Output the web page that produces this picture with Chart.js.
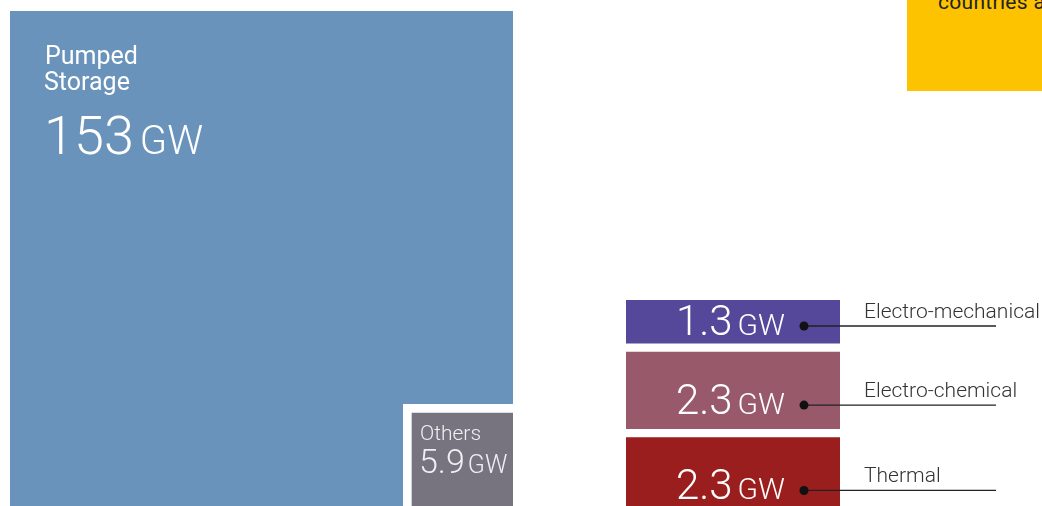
<!DOCTYPE html>
<html>
<head>
<meta charset="utf-8">
<script src="https://cdn.jsdelivr.net/npm/chart.js@4"></script>
<style>
  html, body { margin: 0; padding: 0; background: #fff; overflow: hidden; }
  body { width: 1042px; height: 506px; position: relative; font-family: Roboto, sans-serif; }
  .box { position: absolute; }
  #pumpedBox { left: 10px; top: 11px; width: 503px; height: 495px; }
  #othersBox { left: 403px; top: 404px; width: 110px; height: 102px; }
  #smallBox { left: 626px; top: 300px; width: 416px; height: 206px; }
  #note { position: absolute; left: 907px; top: 0; width: 135px; height: 91px; background: #fdc300; overflow: hidden; }
  #note span { position: absolute; left: 31px; top: -8px; font-size: 21px; line-height: 20px; color: #222; white-space: nowrap; letter-spacing: 0.3px; }
</style>
</head>
<body>
<div class="box" id="pumpedBox"><canvas id="pumpedChart"></canvas></div>
<div class="box" id="othersBox"><canvas id="othersChart"></canvas></div>
<div class="box" id="smallBox"><canvas id="smallChart"></canvas></div>
<div id="note"><span>countries and</span></div>

<script>
const categories = ["Pumped Storage", "Others", "Electro-mechanical", "Electro-chemical", "Thermal"];
const capacityGW = [153, 5.9, 1.3, 2.3, 2.3];
const unit = "GW";

const colors = ["#6993ba", "#77737f", "#55479a", "#985a6b", "#9a1e1e"];

const baseOptions = {
  responsive: true,
  maintainAspectRatio: false,
  animation: false,
  events: [],
  plugins: { legend: { display: false }, tooltip: { enabled: false } },
  datasets: { bar: { grouped: false, barPercentage: 1, categoryPercentage: 1, borderWidth: 0 } }
};

// number + smaller unit, left or right aligned
function drawValue(ctx, value, x, y, numSize, unitSize, gap, align) {
  const num = String(value);
  ctx.textBaseline = "alphabetic";
  ctx.font = "300 " + numSize + "px Roboto";
  const wNum = ctx.measureText(num).width;
  ctx.font = "300 " + unitSize + "px Roboto";
  const wUnit = ctx.measureText(unit).width;
  let left = align === "right" ? x - wNum - gap - wUnit : x;
  ctx.textAlign = "left";
  ctx.font = "300 " + numSize + "px Roboto";
  ctx.fillText(num, left, y);
  ctx.font = "300 " + unitSize + "px Roboto";
  ctx.fillText(unit, left + wNum + gap, y);
}

// PUMPED STORAGE

new Chart(document.getElementById("pumpedChart"), {
  type: "bar",
  data: {
    labels: [categories[0]],
    datasets: [{ label: categories[0], data: [capacityGW[0]], backgroundColor: colors[0] }]
  },
  options: {
    ...baseOptions,
    scales: {
      x: { display: false },
      y: { display: false, reverse: true, min: 0, max: capacityGW[0] }
    }
  },
  plugins: [{
    id: "pumpedLabel",
    afterDatasetsDraw(chart) {
      const ctx = chart.ctx;
      const bar = chart.getDatasetMeta(0).data[0];
      const left = bar.x - bar.width / 2;
      const top = Math.min(bar.y, bar.base);
      ctx.save();
      ctx.fillStyle = "#fff";
      ctx.font = "400 25px Roboto";
      const words = categories[0].split(" ");
      ctx.fillText(words[0], left + 35, top + 53);
      ctx.fillText(words[1], left + 34, top + 79);
      drawValue(ctx, capacityGW[0], left + 34, top + 143, 54, 40, 6, "left");
      ctx.restore();
    }
  }]
});

// OTHERS

new Chart(document.getElementById("othersChart"), {
  type: "bar",
  data: {
    labels: [categories[1]],
    datasets: [{
      label: categories[1],
      data: [capacityGW[1]],
      backgroundColor: colors[1],
      borderColor: "#fff",
      borderWidth: { top: 9, left: 9, right: 0, bottom: 0 },
      borderSkipped: false
    }]
  },
  options: {
    ...baseOptions,
    scales: {
      x: { display: false },
      y: { display: false, reverse: true, min: 0, max: capacityGW[1] }
    }
  },
  plugins: [{
    id: "othersLabel",
    afterDatasetsDraw(chart) {
      const ctx = chart.ctx;
      const bar = chart.getDatasetMeta(0).data[0];
      const left = bar.x - bar.width / 2;
      const top = Math.min(bar.y, bar.base);
      ctx.save();
      ctx.fillStyle = "#f0eff3";
      ctx.font = "300 21px Roboto";
      ctx.fillText(categories[1], left + 17, top + 36);
      drawValue(ctx, capacityGW[1], left + 16, top + 69, 34, 25, 3, "left");
      ctx.restore();
    }
  }]
});

// SMALL TECHNOLOGIES

const smallNames = categories.slice(2);
const smallValues = capacityGW.slice(2);
const gapGW = 0.27;
let runningGW = 0;
const smallDatasets = smallValues.map((v, i) => {
  const ds = { label: smallNames[i], data: [[runningGW, runningGW + v]], backgroundColor: colors[i + 2] };
  runningGW += v + gapGW;
  return ds;
});

new Chart(document.getElementById("smallChart"), {
  type: "bar",
  data: { labels: ["small"], datasets: smallDatasets },
  options: {
    ...baseOptions,
    layout: { padding: { right: 202 } },
    scales: {
      x: { display: false },
      y: { display: false, reverse: true, min: 0, max: 6.2 }
    }
  },
  plugins: [{
    id: "smallLabels",
    afterDatasetsDraw(chart) {
      const ctx = chart.ctx;
      const right = chart.chartArea.right;
      ctx.save();
      smallDatasets.forEach((ds, i) => {
        const bar = chart.getDatasetMeta(i).data[0];
        const top = Math.min(bar.y, bar.base);
        const bottom = Math.max(bar.y, bar.base);
        const baseline = top + (bottom - top) * 0.81;
        ctx.fillStyle = "#fff";
        drawValue(ctx, smallValues[i], right - 55, baseline, 42, 30, 5, "right");
        const ly = baseline - 9;
        ctx.strokeStyle = "#222";
        ctx.lineWidth = 1.3;
        ctx.beginPath();
        ctx.moveTo(right - 36, ly);
        ctx.lineTo(right + 156, ly);
        ctx.stroke();
        ctx.fillStyle = "#111";
        ctx.beginPath();
        ctx.arc(right - 36, ly, 4.5, 0, Math.PI * 2);
        ctx.fill();
        ctx.fillStyle = "#333";
        ctx.font = "300 21px Roboto";
        ctx.textAlign = "left";
        ctx.fillText(smallNames[i], right + 24, ly - 8);
      });
      ctx.restore();
    }
  }]
});
</script>
</body>
</html>
